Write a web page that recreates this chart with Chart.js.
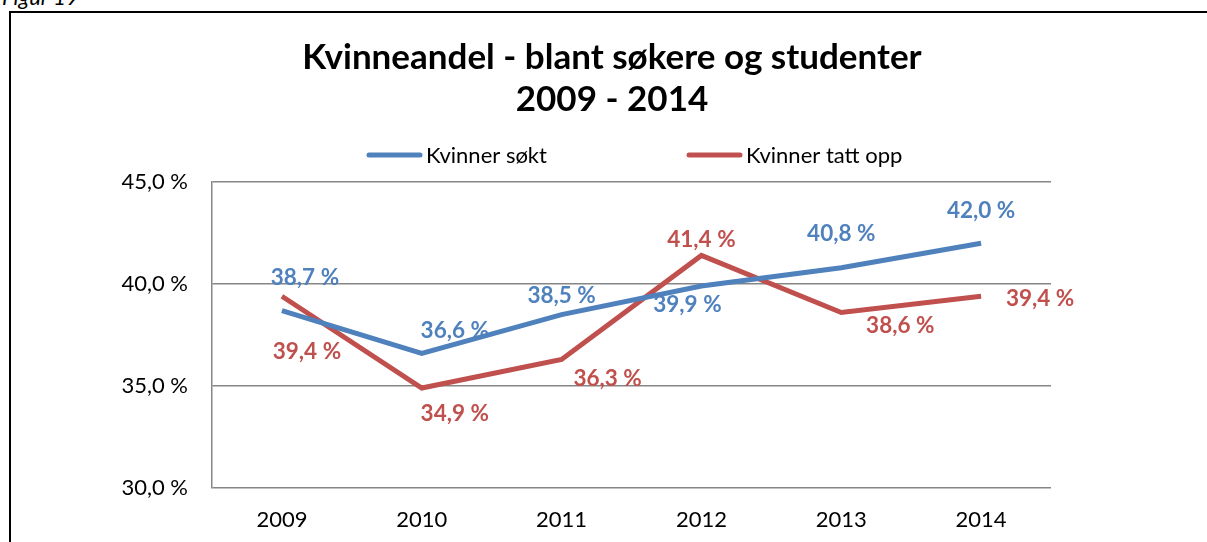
<!DOCTYPE html>
<html>
<head>
<meta charset="utf-8">
<script src="https://cdn.jsdelivr.net/npm/chart.js@4.4.1/dist/chart.umd.min.js"></script>
<style>
  html, body { margin: 0; padding: 0; background: #fff; overflow: hidden; }
  #wrap { position: relative; width: 1207px; height: 542px; }
  #frame { position: absolute; left: 9px; top: 11px; width: 1300px; height: 700px; border: 2px solid #000; box-sizing: border-box; }
  #caption { position: absolute; left: 2px; top: -17px; font: italic 22px Lato, sans-serif; color: #000; }
  #chart { position: absolute; left: 0; top: 0; }
</style>
</head>
<body>
<div id="wrap">
  <div id="caption">Figur 19</div>
  <div id="frame"></div>
  <canvas id="chart" width="1207" height="542"></canvas>
</div>
<script>
const years = ['2009', '2010', '2011', '2012', '2013', '2014'];
const kvinnerSokt = [38.7, 36.6, 38.5, 39.9, 40.8, 42.0];
const kvinnerTattOpp = [39.4, 34.9, 36.3, 41.4, 38.6, 39.4];
const seriesNames = ['Kvinner søkt', 'Kvinner tatt opp'];
const yTicks = [30, 35, 40, 45];
const titleLines = ['Kvinneandel - blant søkere og studenter', '2009 - 2014'];

const BLUE = '#4F81BD';
const RED = '#C0504D';
const FONT = 'Lato, "Open Sans", sans-serif';

// label offsets (px from point), roughly where Excel put them
const labelOffsets = [
  [[23, -33], [33, -23], [0, -19], [-14, 19], [0, -34], [0, -32]],
  [[25, 56], [33, 26], [46, 19], [0, -16], [59, 13], [59, 3]]
];

function pct(v) {
  return v.toFixed(1).replace('.', ',') + ' %';
}

const dataLabels = {
  id: 'dataLabels',
  afterDatasetsDraw(chart) {
    const ctx = chart.ctx;
    ctx.save();
    ctx.font = 'bold 22.5px ' + FONT;
    ctx.textAlign = 'center';
    ctx.textBaseline = 'middle';
    chart.data.datasets.forEach((ds, i) => {
      const meta = chart.getDatasetMeta(i);
      ctx.fillStyle = ds.borderColor;
      meta.data.forEach((pt, j) => {
        const off = labelOffsets[i][j];
        ctx.fillText(pct(ds.data[j]), pt.x + off[0], pt.y + off[1]);
      });
    });
    ctx.restore();
  }
};

// title + legend, placed like the original (title is centred on the frame, not the plot)
const header = {
  id: 'header',
  afterDraw(chart) {
    const ctx = chart.ctx;
    ctx.save();
    ctx.fillStyle = '#000';
    ctx.textAlign = 'center';
    ctx.textBaseline = 'middle';
    ctx.font = 'bold 35px ' + FONT;
    titleLines.forEach((t, i) => ctx.fillText(t, 612, 58 + i * 42));

    const spots = [367, 687];
    ctx.font = '22px ' + FONT;
    ctx.textAlign = 'left';
    chart.data.datasets.forEach((ds, i) => {
      const x = spots[i], y = 155;
      ctx.strokeStyle = ds.borderColor;
      ctx.lineWidth = 5;
      ctx.lineCap = 'round';
      ctx.beginPath();
      ctx.moveTo(x + 2, y);
      ctx.lineTo(x + 53, y);
      ctx.stroke();
      ctx.fillText(ds.label, x + 59, y + 1);
    });
    ctx.restore();
  }
};

new Chart(document.getElementById('chart'), {
  type: 'line',
  data: {
    labels: years,
    datasets: [
      {
        label: seriesNames[0],
        data: kvinnerSokt,
        borderColor: BLUE,
        backgroundColor: BLUE,
        borderWidth: 5,
        pointRadius: 0,
        tension: 0
      },
      {
        label: seriesNames[1],
        data: kvinnerTattOpp,
        borderColor: RED,
        backgroundColor: RED,
        borderWidth: 5,
        pointRadius: 0,
        tension: 0
      }
    ]
  },
  options: {
    responsive: false,
    animation: false,
    layout: { padding: { top: 182, left: 20, right: 156, bottom: 0 } },
    plugins: {
      legend: { display: false },
      tooltip: { enabled: false },
      title: { display: false }
    },
    scales: {
      x: {
        offset: true,
        grid: { display: false },
        border: { display: false },
        ticks: { color: '#000', font: { family: FONT, size: 22 }, padding: 11 },
        afterFit(scale) { scale.height = 54; }
      },
      y: {
        min: 30,
        max: 45,
        afterBuildTicks(scale) { scale.ticks = yTicks.map(v => ({ value: v })); },
        grid: { color: '#868686', lineWidth: 1.5, drawTicks: false },
        border: { display: true, color: '#868686', width: 1.5 },
        ticks: {
          color: '#000',
          font: { family: FONT, size: 22 },
          padding: 24,
          callback: v => pct(v)
        },
        afterFit(scale) { scale.width = 192; }
      }
    }
  },
  plugins: [dataLabels, header]
});
</script>
</body>
</html>
